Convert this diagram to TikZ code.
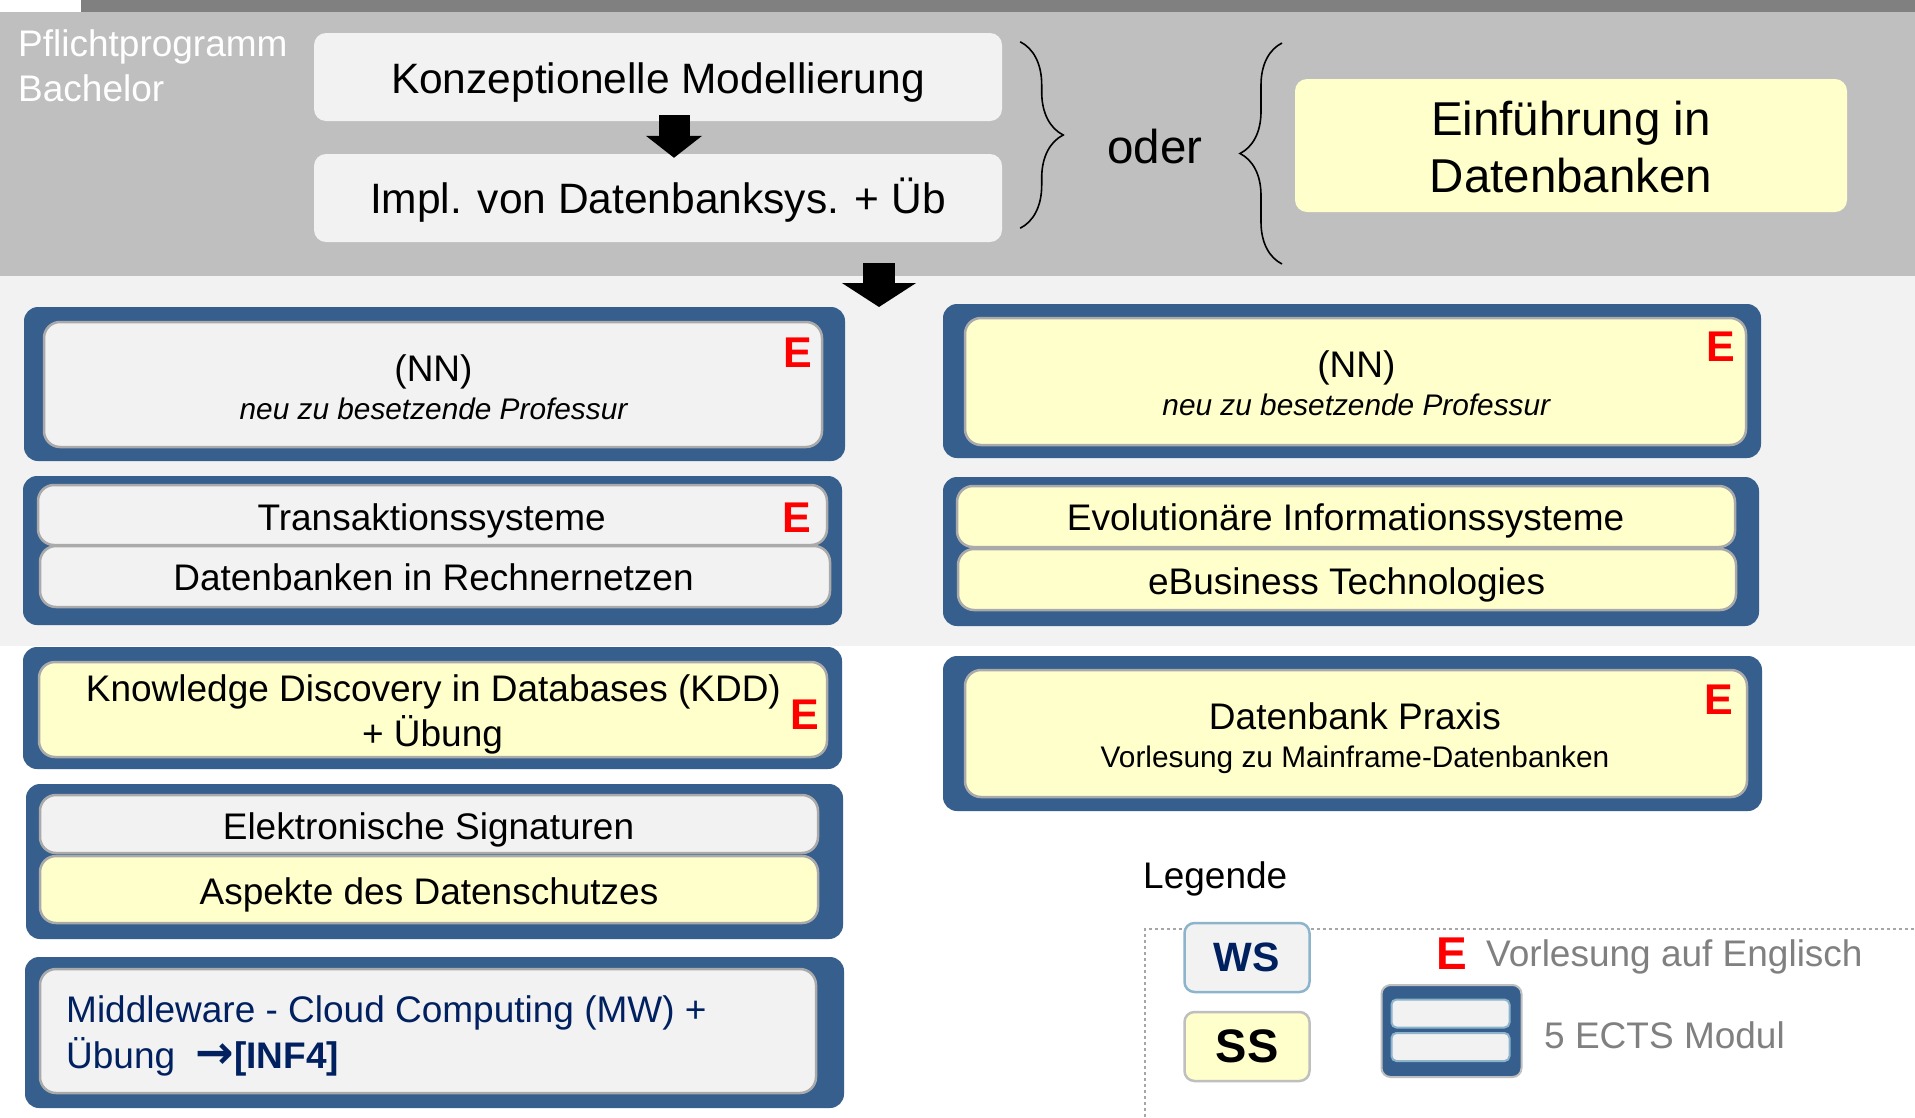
\documentclass[tikz,border=0pt]{standalone}
\usepackage{fontspec}
\setmainfont{Liberation Sans}
\newfontfamily\pfeilfont{DejaVu Sans}
\usetikzlibrary{arrows.meta,decorations.pathreplacing}
\definecolor{modblue}{RGB}{54,95,142}
\definecolor{bargray}{RGB}{128,128,128}
\definecolor{bandgray}{RGB}{191,191,191}
\definecolor{wsgray}{RGB}{242,242,242}
\definecolor{ssyellow}{RGB}{255,255,204}
\definecolor{rimgray}{RGB}{170,170,170}
\definecolor{wsrim}{RGB}{141,180,203}
\definecolor{navy}{RGB}{0,32,96}
\definecolor{txtgray}{RGB}{128,128,128}
\newcommand\topfont{\fontsize{37}{45}\selectfont}
\newcommand\grossfont{\fontsize{42.5}{50}\selectfont}
\newcommand\riesenfont{\fontsize{47.5}{58}\selectfont}
\newcommand\kursfont{\fontsize{37}{45}\selectfont}
\newcommand\kleinfont{\fontsize{29.8}{35}\selectfont}
\begin{document}
\begin{tikzpicture}[x=1pt,y=-1pt,
		module/.style={fill=modblue, rounded corners=14pt, inner sep=0pt},
		course/.style={fill=wsgray, draw=rimgray, line width=2.5pt, rounded corners=16pt, inner sep=0pt},
		summer/.style={course, fill=ssyellow},
		topbox/.style={fill=wsgray, rounded corners=12pt, inner sep=0pt, minimum width=688pt, minimum height=88pt},
		zeile/.style={anchor=base, inner sep=0pt, font=\kursfont},
		emark/.style={text=red, inner sep=0pt, font=\bfseries\fontsize{43}{43}\selectfont},
		legbox/.style={fill=wsgray, draw=wsrim, line width=2.5pt, rounded corners=10pt, minimum width=125pt, minimum height=69pt, font=\bfseries\fontsize{41}{41}\selectfont},
		minirow/.style={fill=wsgray, draw=wsrim, line width=2pt, rounded corners=5pt, minimum width=118pt, minimum height=28pt},
		blockarrow/.style n args={3}{line width=#1, -{Triangle[width=#2,length=#3]}},
		brace/.style={decorate, line width=1.6pt},
		legtext/.style={anchor=base west, inner sep=0pt, font=\kursfont}]
			\useasboundingbox (0,0) rectangle (1915,1117);
			\fill[white] (0,0) rectangle (1915,1117);
			\fill[bargray] (81,0) rectangle (1915,12);
			\fill[bandgray] (0,12) rectangle (1915,276);
			\fill[wsgray] (0,276) rectangle (1915,646);

			% Pflichtprogramm
			\node[anchor=west, inner sep=0pt, align=left, text=white, font=\topfont] (p0) at (18,66) {Pflichtprogramm\\Bachelor};
			\node[topbox] (k) at (658,77)  {};
			\node[topbox] (i) at (658,198) {};
			\node[topbox, fill=ssyellow, minimum width=552pt, minimum height=133pt] (d) at (1571,145.5) {};
			\node[zeile, font=\riesenfont] (o) at (1155,163) {oder};
			\draw[brace, decoration={brace, amplitude=43pt}] ([xshift=18pt,yshift=-9pt]k.north east) -- ([xshift=18pt,yshift=14pt]i.south east);
			\draw[brace, decoration={brace, amplitude=42pt}] (1282,264) -- (1282,43);
			\draw[blockarrow={31pt}{55pt}{22pt}] ([xshift=16pt,yshift=6pt]k.south) -- ([xshift=16pt,yshift=-4pt]i.north);
			\coordinate (a0) at (879,263);
			\coordinate (a1) at (879,307);
			\draw[blockarrow={32pt}{73pt}{24pt}] (a0) -- (a1);

			\def\modules {m1/434.5/384/821/154, m2/432.5/550.5/819/149, m3/432.5/708/819/122,
			m4/434.5/861.5/817/155, m5/434.5/1032.5/819/151,
			m6/1352/381/818/154, m7/1351/551.5/816/149, m8/1352.5/733.5/819/155}  % 5 ECTS Module
			\foreach \n/\x/\y/\w/\h in \modules
			{	\node[module, minimum width=\w pt, minimum height=\h pt] (\n) at (\x,\y) {};
			}

			% linke Spalte
			\node[course, minimum width=778pt, minimum height=125pt] (c1) at (433,384.5) {};
			\node[course, minimum width=789pt, minimum height=60pt] (c2) at (432.5,515) {};
			\node[course, minimum width=790pt, minimum height=61pt] (c3) at (435,576.5) {};
			\node[summer, minimum width=788pt, minimum height=95pt] (c4) at (433,709.5) {};
			\node[course, minimum width=778pt, minimum height=58pt] (c5) at (429,824) {};
			\node[summer, minimum width=778pt, minimum height=67pt] (c6) at (429,889.5) {};
			\node[course, minimum width=776pt, minimum height=124pt] (c7) at (428,1031) {};
			% rechte Spalte
			\node[summer, minimum width=781pt, minimum height=127pt] (c8) at (1355.5,381.5) {};
			\node[summer, minimum width=778pt, minimum height=61pt] (c9) at (1346,516.5) {};
			\node[summer, minimum width=778pt, minimum height=61pt] (c10) at (1347,579.5) {};
			\node[summer, minimum width=782pt, minimum height=127pt] (c11) at (1356,733.5) {};

			\def\zeilen {658/93.3/{\grossfont Konzeptionelle Modellierung}, 658/213.8/{\grossfont Impl. von Datenbanksys. + Üb},
			1571/135/{\riesenfont Einführung in}, 1571/192/{\riesenfont Datenbanken},
			433.5/381.7/{(NN)}, 433.5/419/{\kleinfont\itshape neu zu besetzende Professur},
			431.7/530.5/{Transaktionssysteme}, 433.5/590/{Datenbanken in Rechnernetzen},
			433.4/701/{Knowledge Discovery in Databases (KDD)}, 432.5/746/{+ Übung},
			428.5/839/{Elektronische Signaturen}, 429/904/{Aspekte des Datenschutzes},
			1356.3/377.3/{(NN)}, 1356.3/415/{\kleinfont\itshape neu zu besetzende Professur},
			1345.6/530.5/{Evolutionäre Informationssysteme}, 1346.6/594/{eBusiness Technologies},
			1355/729.7/{Datenbank Praxis}, 1355/767.7/{\kleinfont Vorlesung zu Mainframe-Datenbanken}}  % Kurstitel
			\foreach \x/\y/\txt [count=\i] in \zeilen
			{	\node[zeile] (t\i) at (\x,\y) {\txt};
			}
			\node[zeile, anchor=base west, text=navy] (t19) at (66,1022) {Middleware - Cloud Computing (MW) +};
			\node[zeile, anchor=base west, text=navy] (t20) at (66,1068) {Übung\ \ {\pfeilfont\bfseries\fontsize{46}{46}\selectfont →}\textbf{[INF4]}};

			\def\emarks {798/353, 797/518, 805/715, 1721/347, 1719/700}  % Englisch
			\foreach \x/\y [count=\i] in \emarks
			{	\node[emark] (e\i) at (\x,\y) {E};
			}

			% Legende
			\node[legtext] (l0) at (1143,888) {Legende};
			\draw[dashed, txtgray!70, line width=1.5pt] (1145,1117) -- (1145,929) -- (1915,929);
			\node[legbox, text=navy] (ws) at (1247,957.5) {WS};
			\node[legbox, fill=ssyellow, draw=bandgray, font=\bfseries\fontsize{47}{47}\selectfont] (ss) at (1247,1046.5) {SS};
			\node[module, draw=bandgray, line width=2pt, rounded corners=9pt, minimum width=140pt, minimum height=92pt] (m9) at (1451.5,1031) {};
			\node[minirow] (r1) at (1450.5,1013.5) {};
			\node[minirow] (r2) at (1450.5,1047) {};
			\node[emark, font=\bfseries\fontsize{46}{46}\selectfont] (e6) at (1451.7,953.3) {E};
			\node[legtext, text=txtgray] (l1) at (1486,966.7) {Vorlesung auf Englisch};
			\node[legtext, text=txtgray] (l2) at (1544,1048.5) {5 ECTS Modul};
		\end{tikzpicture}
\end{document}
